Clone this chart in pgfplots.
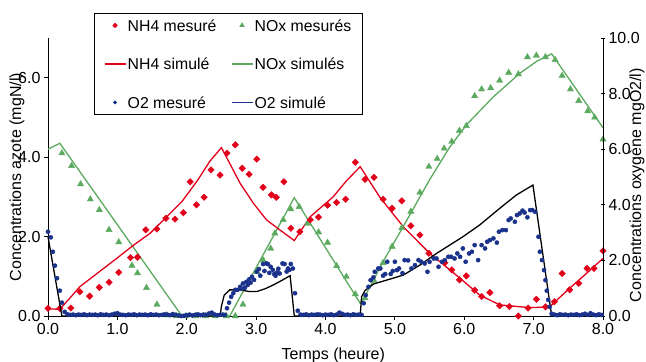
\documentclass[border=0pt]{standalone}
\usepackage{fontspec}
\setmainfont{Liberation Sans}
\usepackage{pgfplots}
\pgfplotsset{compat=1.18}
\definecolor{nhred}{RGB}{226,0,26}
\definecolor{noxgreen}{RGB}{92,170,95}
\definecolor{onavy}{RGB}{26,50,140}
\newcommand{\ff}{\fontsize{16bp}{19bp}\selectfont}
\newcommand{\fl}{\fontsize{15.8bp}{19bp}\selectfont}
\pgfplotsset{
  common/.style={
    scale only axis, width=555bp, height=278bp,
    xmin=0, xmax=8,
    /pgf/number format/.cd, fixed, fixed zerofill, precision=1, assume math mode=true,
    /pgfplots/.cd,
    tick label style={font=\ff},
    label style={font=\ff},
    major tick length=4bp,
    axis line style={line width=0.8bp},
    every tick/.style={line width=0.8bp, black},
    clip=false,
  },
  legend image code/.code={\draw[mark repeat=2,mark phase=2,#1] plot coordinates {(0bp,0bp)(10.5bp,0bp)(21bp,0bp)};},
}
\begin{document}
\begin{tikzpicture}
\begin{axis}[common,
  ymin=0, ymax=7,
  axis x line*=bottom, axis y line*=left,
  xtick={0,1,...,8}, ytick={0,2,4,6},
  tick align=outside,
  xlabel={Temps (heure)},
  ylabel={Concentrations azote (mgN/l)},
  xlabel style={at={(axis description cs:0.514,-0.14)}, anchor=center},
  ylabel style={at={(axis description cs:-0.056,0.5)}, anchor=center, rotate=0},
]
% NOx simule
\addplot[noxgreen, line width=1.3bp] coordinates {
(0,4.20)(0.17,4.35)(0.85,2.67)(1.93,0)(2.62,0)(3.55,2.98)(4.50,0.32)(4.54,0.40)(4.83,1.37)(5.12,2.25)(5.50,3.43)(5.79,4.25)(6.03,4.81)(6.42,5.52)(6.80,6.11)(7.05,6.42)(7.26,6.60)(8.0,4.74)};
% NH4 simule
\addplot[nhred, line width=1.3bp] coordinates {
(0,0.18)(0.17,0.17)(0.30,0.42)(0.46,0.74)(0.99,1.45)(1.23,1.78)(1.47,2.08)(1.93,2.88)(2.15,3.40)(2.33,3.89)(2.50,4.24)(2.77,3.34)(2.96,2.84)(3.15,2.42)(3.34,2.17)(3.55,1.90)(3.78,2.50)(4.11,3.00)(4.30,3.40)(4.50,3.76)(4.78,3.00)(5.12,2.25)(5.50,1.58)(5.94,0.95)(6.22,0.53)(6.51,0.28)(6.95,0.21)(7.23,0.23)(7.52,0.70)(7.76,1.07)(8.0,1.45)};
% NOx mesures
\addplot[only marks, mark=triangle*, mark size=3.6bp, color=noxgreen] coordinates {
(0.20,4.10)(0.34,3.78)(0.47,3.32)(0.61,2.94)(0.74,2.67)(0.88,2.17)(1.02,1.86)(1.21,1.27)(1.29,1.08)(1.42,0.71)(1.57,0.29)(1.71,0.02)(1.85,0.0)(1.99,0.0)(2.13,0.0)(2.27,0.0)(2.41,0.0)(2.57,0.0)(2.70,0.0)(2.81,0.29)(3.01,1.12)(3.10,1.41)(3.21,1.70)(3.27,2.08)(3.39,2.42)(3.50,2.69)(3.62,2.75)(3.74,2.33)(3.90,2.11)(4.03,1.85)(4.16,1.26)(4.30,0.99)(4.43,0.55)(4.57,0.45)(4.70,0.89)(4.83,1.34)(4.96,1.75)(5.10,2.22)(5.23,2.63)(5.36,3.11)(5.49,3.76)(5.61,3.96)(5.71,4.22)(5.82,4.39)(5.93,4.67)(6.03,4.79)(6.15,5.54)(6.25,5.71)(6.38,5.74)(6.51,5.93)(6.64,6.13)(6.78,6.09)(6.91,6.52)(7.04,6.56)(7.17,6.52)(7.31,6.45)(7.41,6.05)(7.53,5.71)(7.65,5.42)(7.78,5.16)(7.88,5.00)(8.0,4.45)};
% NH4 mesure
\addplot[only marks, mark=square*, mark size=2.3bp, mark options={rotate=45}, color=nhred] coordinates {
(0,0.19)(0.17,0.19)(0.33,0.20)(0.46,0.61)(0.60,0.50)(0.74,0.72)(0.88,0.85)(1.02,1.10)(1.19,1.47)(1.29,1.48)(1.41,2.17)(1.57,2.19)(1.70,2.46)(1.83,2.44)(1.95,2.60)(2.05,3.38)(2.14,2.80)(2.25,2.99)(2.35,3.68)(2.48,3.55)(2.58,4.10)(2.70,4.31)(2.80,3.72)(2.90,3.57)(3.01,3.95)(3.10,3.24)(3.22,3.05)(3.29,2.99)(3.40,3.38)(3.50,2.21)(3.63,2.12)(3.78,2.42)(3.90,2.49)(4.03,2.79)(4.16,2.86)(4.29,2.94)(4.43,3.87)(4.57,3.44)(4.70,3.49)(4.83,2.94)(4.96,2.71)(5.10,2.90)(5.23,2.27)(5.36,2.04)(5.49,1.58)(5.72,1.34)(5.82,1.16)(5.93,0.91)(6.03,1.01)(6.15,0.65)(6.25,0.49)(6.37,0.59)(6.51,0.26)(6.65,0.24)(6.78,0.0)(6.92,0.20)(7.04,0.42)(7.17,0.23)(7.30,0.36)(7.41,1.07)(7.52,0.66)(7.65,0.82)(7.77,1.20)(7.87,1.20)(8.0,1.64)};
\end{axis}
\begin{axis}[common,
  ymin=0, ymax=10,
  axis x line=none, axis y line*=right,
  ytick={0,2,4,6,8,10},
  tick align=center,
  ylabel={Concentrations oxygène mgO2/l)},
  ylabel style={at={(axis description cs:1.061,0.471)}, anchor=center, rotate=0},
  legend columns=2,
  legend cell align=left,
  legend style={at={(axis description cs:0.082,1.09)}, anchor=north west,
    draw=black, line width=0.8bp, font=\fl, inner xsep=10bp, inner ysep=4bp,
    nodes={inner xsep=1.5bp, inner ysep=0bp, text height=11.5bp, text depth=0bp, minimum height=16bp},
    row sep=22.5bp,
    /tikz/every even column/.append style={column sep=13bp}},
]
\addlegendimage{only marks, mark=square*, mark size=1.5bp, mark options={rotate=45}, color=nhred}
\addlegendentry{NH4 mesuré}
\addlegendimage{only marks, mark=triangle*, mark size=2.4bp, color=noxgreen}
\addlegendentry{NOx mesurés}
\addlegendimage{draw=nhred, line width=1.3bp}
\addlegendentry{NH4 simulé}
\addlegendimage{draw=noxgreen, line width=1.3bp}
\addlegendentry{NOx simulés}
\addlegendimage{only marks, mark=*, mark size=1.5bp, color=onavy}
\addlegendentry{O2 mesuré}
\addlegendimage{draw=onavy, line width=1.3bp}
\addlegendentry{O2 simulé}
% O2 simule (black in plot)
\addplot[black, line width=1.3bp, forget plot] coordinates {
(0,2.85)(0.20,0)(2.48,0)(2.50,0.35)(2.54,0.75)(2.62,0.94)(2.77,0.94)(2.90,0.88)(3.01,0.88)(3.13,0.98)(3.25,1.12)(3.37,1.28)(3.49,1.45)(3.55,0)(4.50,0)(4.52,0.69)(4.57,0.92)(4.64,1.05)(4.69,1.15)(4.88,1.29)(5.12,1.47)(5.36,1.83)(5.60,2.25)(5.98,2.85)(6.22,3.27)(6.51,3.87)(6.75,4.35)(6.99,4.71)(7.26,0)(8.0,0)};
% O2 mesure
\addplot[only marks, mark=*, mark size=2.1bp, color=onavy, forget plot] coordinates {
(0,3.03)(0.04,2.83)(0.07,2.31)(0.10,1.81)(0.13,1.36)(0.17,0.91)(0.20,0.48)(0.24,0.15)
(0.28,0.06)(0.32,0.04)(0.36,0.05)(0.40,0.03)(0.44,0.05)(0.48,0.04)(0.52,0.06)(0.56,0.03)(0.60,0.05)(0.64,0.04)(0.68,0.05)(0.72,0.03)(0.76,0.06)(0.80,0.04)(0.84,0.05)(0.88,0.03)(0.92,0.05)(0.96,0.08)(1.00,0.10)(1.04,0.05)(1.08,0.04)(1.12,0.03)(1.16,0.05)(1.20,0.04)(1.24,0.06)(1.28,0.03)(1.32,0.05)(1.36,0.04)(1.40,0.05)(1.44,0.03)(1.48,0.06)(1.52,0.04)(1.56,0.05)(1.60,0.03)(1.64,0.04)(1.68,0.06)(1.72,0.05)(1.76,0.03)(1.80,0.07)(1.84,0.04)(1.88,0.02)(1.92,0.00)(1.96,0.01)(2.00,0.03)(2.04,0.05)(2.08,0.02)(2.12,0.04)(2.16,0.06)(2.20,0.03)(2.24,0.05)(2.28,0.04)(2.32,0.09)(2.36,0.12)(2.40,0.05)(2.44,0.03)(2.48,0.04)(2.52,0.05)
(2.55,0.04)(2.58,0.28)(2.61,0.48)(2.64,0.69)(2.67,0.82)(2.70,0.94)(2.73,0.94)(2.77,1.05)(2.79,0.98)(2.81,1.17)(2.84,1.02)(2.86,1.23)(2.88,1.12)(2.90,1.32)(2.92,1.20)(2.94,1.41)(2.97,1.30)(3.01,1.59)(3.04,1.69)(3.06,1.45)(3.10,1.87)(3.12,1.62)(3.15,1.89)(3.17,1.87)(3.19,1.55)(3.21,1.77)(3.24,1.66)(3.26,1.51)(3.28,1.45)(3.30,1.56)(3.32,1.70)(3.34,1.53)(3.38,1.89)(3.41,1.87)(3.44,1.60)(3.46,1.71)(3.48,1.66)(3.50,1.87)(3.53,1.71)(3.56,0.82)(3.60,0.19)
(3.64,0.05)(3.68,0.04)(3.72,0.06)(3.76,0.03)(3.80,0.05)(3.84,0.04)(3.88,0.06)(3.92,0.05)(3.96,0.03)(4.00,0.05)(4.04,0.04)(4.08,0.06)(4.12,0.03)(4.16,0.05)(4.20,0.12)(4.24,0.08)(4.28,0.04)(4.32,0.05)(4.36,0.03)(4.40,0.06)(4.44,0.04)(4.48,0.05)
(4.52,0.04)(4.55,0.46)(4.58,0.75)(4.62,1.05)(4.65,1.29)(4.69,1.39)(4.71,1.59)(4.76,1.71)(4.79,1.71)(4.83,1.45)(4.86,1.51)(4.89,1.95)(4.94,1.51)(4.97,1.62)(5.00,1.95)(5.03,1.65)(5.06,1.71)(5.11,1.54)(5.14,2.01)(5.19,2.00)(5.24,1.71)(5.29,1.83)(5.34,2.01)(5.38,1.95)(5.43,1.89)(5.47,1.59)(5.50,1.95)(5.56,2.07)(5.60,2.07)(5.63,1.77)(5.68,1.95)(5.72,2.01)(5.77,2.13)(5.81,2.13)(5.86,2.07)(5.90,2.25)(5.94,2.13)(5.98,2.43)(6.02,1.95)(6.07,2.25)(6.11,2.31)(6.15,2.55)(6.20,2.01)(6.25,2.55)(6.30,2.43)(6.33,2.67)(6.37,2.73)(6.42,2.79)(6.47,2.64)(6.50,3.03)(6.55,3.09)(6.60,3.09)(6.64,3.45)(6.67,3.51)(6.73,3.39)(6.76,3.63)(6.80,3.69)(6.84,3.79)(6.87,3.72)(6.91,3.55)(6.95,3.81)(6.98,3.81)(7.02,3.75)(7.07,2.85)(7.09,2.31)(7.12,2.01)(7.15,1.65)(7.17,1.29)(7.19,0.91)(7.21,0.58)(7.23,0.33)(7.26,0.08)
(7.30,0.05)(7.34,0.03)(7.38,0.06)(7.42,0.04)(7.46,0.05)(7.50,0.03)(7.54,0.05)(7.58,0.04)(7.62,0.06)(7.66,0.03)(7.70,0.05)(7.74,0.08)(7.78,0.04)(7.82,0.10)(7.86,0.05)(7.90,0.03)(7.94,0.06)(7.98,0.04)};
\end{axis}
\pgfresetboundingbox
\path (-48bp,-46bp) rectangle (598bp,316bp);
\end{tikzpicture}
\end{document}
